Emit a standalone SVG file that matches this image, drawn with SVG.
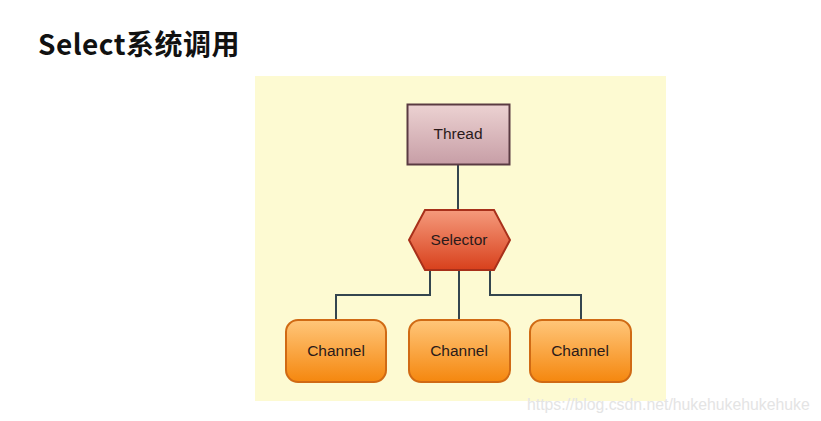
<svg xmlns="http://www.w3.org/2000/svg" width="821" height="421" viewBox="0 0 821 421">
<defs>
<linearGradient id="gThread" x1="0" y1="0" x2="0" y2="1"><stop offset="0" stop-color="#ecd2d2"/><stop offset="1" stop-color="#c79ea6"/></linearGradient>
<linearGradient id="gSel" x1="0" y1="0" x2="0" y2="1"><stop offset="0" stop-color="#f59a7c"/><stop offset="1" stop-color="#d8401c"/></linearGradient>
<linearGradient id="gCh" x1="0" y1="0" x2="0" y2="1"><stop offset="0" stop-color="#ffc67a"/><stop offset="1" stop-color="#f5870e"/></linearGradient>
</defs>
<style>
.lbl{font-family:"Liberation Sans",Arial,sans-serif;font-size:15.5px;fill:#2a1a1a;text-anchor:middle}
.conn{fill:none;stroke:#34454f;stroke-width:2}
.ch{fill:url(#gCh);stroke:#d06a14;stroke-width:2}
</style>
<rect width="821" height="421" fill="#ffffff"/>
<text x="38" y="55" font-family="'Noto Sans CJK SC','Noto Sans',sans-serif" font-weight="bold" font-size="28" letter-spacing="0.5" fill="#111">Select系统调用</text>
<rect x="255" y="76" width="411" height="325" fill="#fdfad2"/>
<g id="connectors">
<path class="conn" d="M458 164V210"/>
<path class="conn" d="M430 268V295H336V320"/>
<path class="conn" d="M459 270V320"/>
<path class="conn" d="M490 268V295H581V320"/>
</g>
<g id="thread">
<rect x="407.5" y="104.5" width="102" height="60" fill="url(#gThread)" stroke="#5a3a42" stroke-width="2"/>
<text class="lbl" x="458" y="139">Thread</text>
</g>
<g id="selector">
<polygon points="425,210 494,210 510,240 494,270 425,270 409,240" fill="url(#gSel)" stroke="#a8301a" stroke-width="2"/>
<text class="lbl" x="459" y="245">Selector</text>
</g>
<g id="channel1">
<rect class="ch" x="286" y="320" width="100" height="62" rx="12"/>
<text class="lbl" x="336" y="356">Channel</text>
</g>
<g id="channel2">
<rect class="ch" x="409" y="320" width="101" height="62" rx="12"/>
<text class="lbl" x="459" y="356">Channel</text>
</g>
<g id="channel3">
<rect class="ch" x="530" y="320" width="101" height="62" rx="12"/>
<text class="lbl" x="580" y="356">Channel</text>
</g>
<text x="527" y="410" font-family="'Liberation Sans',Arial,sans-serif" font-size="15.8" fill="#e4e4e4">https://blog.csdn.net/hukehukehukehuke</text>
</svg>
